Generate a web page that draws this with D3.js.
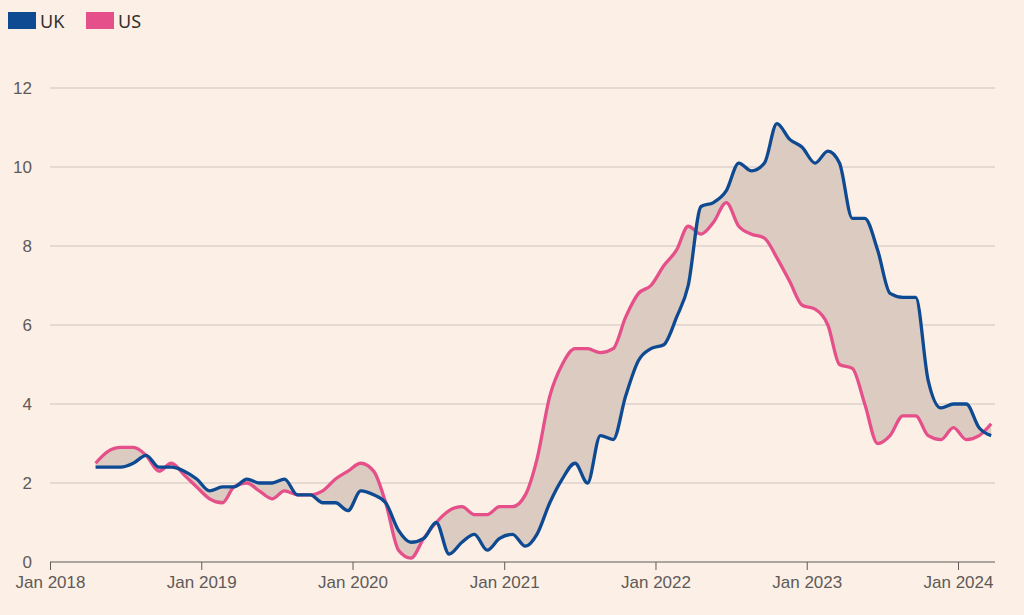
<!DOCTYPE html>
<html lang="en">
<head>
<meta charset="UTF-8">
<script src="https://d3js.org/d3.v7.min.js"></script>
<style>
  body { margin: 0; background: #fbefe6; font-family: "Noto Sans", Arial, sans-serif; }
  .tick text { fill: #5f5a57; font-size: 17px; }
</style>
</head>
<body>
<script>
const startMonth = "2018-04";
const ukValues = [2.4,2.4,2.4,2.5,2.7,2.4,2.4,2.3,2.1,
  1.8,1.9,1.9,2.1,2.0,2.0,2.1,1.7,1.7,1.5,1.5,1.3,
  1.8,1.7,1.5,0.8,0.5,0.6,1.0,0.2,0.5,0.7,0.3,0.6,
  0.7,0.4,0.7,1.5,2.1,2.5,2.0,3.2,3.1,4.2,5.1,5.4,
  5.5,6.2,7.0,9.0,9.1,9.4,10.1,9.9,10.1,11.1,10.7,10.5,
  10.1,10.4,10.1,8.7,8.7,7.9,6.8,6.7,6.7,4.6,3.9,4.0,
  4.0,3.4,3.2];
const usValues = [2.5,2.8,2.9,2.9,2.7,2.3,2.5,2.2,1.9,
  1.6,1.5,1.9,2.0,1.8,1.6,1.8,1.7,1.7,1.8,2.1,2.3,
  2.5,2.3,1.5,0.3,0.1,0.6,1.0,1.3,1.4,1.2,1.2,1.4,
  1.4,1.7,2.6,4.2,5.0,5.4,5.4,5.3,5.4,6.2,6.8,7.0,
  7.5,7.9,8.5,8.3,8.6,9.1,8.5,8.3,8.2,7.7,7.1,6.5,
  6.4,6.0,5.0,4.9,4.0,3.0,3.2,3.7,3.7,3.2,3.1,3.4,
  3.1,3.2,3.5];
const yTicks = [0,2,4,6,8,10,12];
const xTickYears = [2018,2019,2020,2021,2022,2023,2024];
const seriesNames = ["UK","US"];
const seriesColors = ["#0e4a92","#e5508a"];

const W = 1024, H = 615;
// monthly readings plotted at the end of each month
const t0 = new Date(startMonth + "-01");
const rows = ukValues.map((v,i) => ({
  date: d3.timeDay.offset(d3.timeMonth.offset(t0, i), 20), uk: v, us: usValues[i]
}));

const svg = d3.select("body").append("svg").attr("width", W).attr("height", H);

const x = d3.scaleTime().domain([new Date(2018,0,1), new Date(2024,0,1)]).range([50, 958]);
const y = d3.scaleLinear().domain([0,12]).range([562, 88]);

// grid
svg.append("g").selectAll("line").data(yTicks.filter(d => d > 0)).join("line")
  .attr("x1", 50).attr("x2", 995)
  .attr("y1", d => y(d)).attr("y2", d => y(d))
  .attr("stroke", "#cfc4bc").attr("stroke-width", 1);

// y labels
svg.append("g").attr("transform", "translate(32,0)")
  .call(d3.axisLeft(y).tickValues(yTicks).tickSize(0).tickPadding(0))
  .call(g => g.select(".domain").remove())
  .call(g => g.selectAll("text").attr("dy", "0.35em"));

// x axis
svg.append("g").attr("transform", "translate(0,562)")
  .call(d3.axisBottom(x).tickValues(xTickYears.map(yr => new Date(yr,0,1)))
    .tickFormat(d => "Jan " + d.getFullYear()).tickSize(8).tickPadding(6))
  .call(g => g.select(".domain").remove())
  .call(g => g.selectAll(".tick line").attr("stroke", "#5f5a57"));
svg.append("line").attr("x1", 50).attr("x2", 995).attr("y1", 562).attr("y2", 562)
  .attr("stroke", "#5f5a57");

const curve = d3.curveMonotoneX;
svg.append("path").datum(rows)
  .attr("d", d3.area().curve(curve).x(d => x(d.date)).y0(d => y(d.us)).y1(d => y(d.uk)))
  .attr("fill", "#dccbc1");

svg.append("path").datum(rows)
  .attr("d", d3.line().curve(curve).x(d => x(d.date)).y(d => y(d.us)))
  .attr("fill", "none").attr("stroke", seriesColors[1]).attr("stroke-width", 3.3);
svg.append("path").datum(rows)
  .attr("d", d3.line().curve(curve).x(d => x(d.date)).y(d => y(d.uk)))
  .attr("fill", "none").attr("stroke", seriesColors[0]).attr("stroke-width", 3.3);

// legend
const leg = svg.append("g").attr("transform", "translate(8,12)");
seriesNames.forEach((n,i) => {
  const g = leg.append("g").attr("transform", `translate(${i*78},0)`);
  g.append("rect").attr("width", 28).attr("height", 17).attr("fill", seriesColors[i]);
  g.append("text").attr("x", 32).attr("y", 16).attr("font-size", 18).attr("fill", "#33302e").text(n);
});
</script>
</body>
</html>
